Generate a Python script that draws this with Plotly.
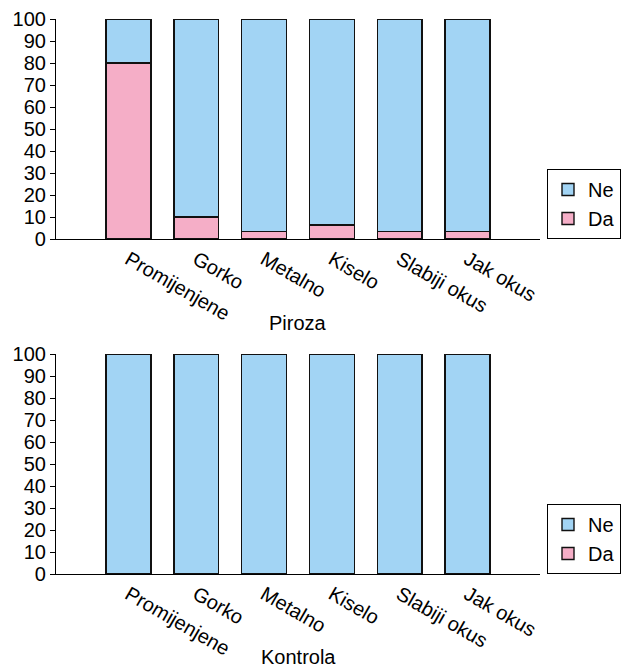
import plotly.graph_objects as go
from plotly.subplots import make_subplots

categories = ["Promijenjene", "Gorko", "Metalno", "Kiselo", "Slabiji okus", "Jak okus"]
piroza_da = [80, 10, 3.5, 6.3, 3.5, 3.5]
piroza_ne = [20, 90, 96.5, 93.7, 96.5, 96.5]
kontrola_da = [0, 0, 0, 0, 0, 0]
kontrola_ne = [100, 100, 100, 100, 100, 100]
panel_titles = ["Piroza", "Kontrola"]
y_ticks = list(range(0, 101, 10))

BLUE = "#a2d4f4"
PINK = "#f5aec7"
FONT = "Liberation Sans, Arial, sans-serif"
FS = 20

fig = make_subplots(rows=2, cols=1, vertical_spacing=0.2)

x_idx = list(range(len(categories)))
panels = [(piroza_da, piroza_ne, "legend"), (kontrola_da, kontrola_ne, "legend2")]
for r, (da, ne, lg) in enumerate(panels, start=1):
    fig.add_trace(go.Bar(x=x_idx, y=da, name="Da", marker=dict(color=PINK, line=dict(color="#111", width=1.4)),
                         width=0.66, legend=lg), row=r, col=1)
    fig.add_trace(go.Bar(x=x_idx, y=ne, name="Ne", marker=dict(color=BLUE, line=dict(color="#111", width=1.4)),
                         width=0.66, legend=lg), row=r, col=1)

top_bottom = (574 - 239) / 555
bot_top = (574 - 354) / 555

for r, dom in [(1, [top_bottom, 1.0]), (2, [0.0, bot_top])]:
    fig.update_xaxes(row=r, col=1, tickmode="array", tickvals=x_idx, ticktext=categories,
                     range=[-1.07, 6.07], tickangle=30, showline=True, linecolor="black", linewidth=1.2,
                     ticks="", showgrid=False, zeroline=False, automargin=False,
                     tickfont=dict(family=FONT, size=FS, color="black"))
    fig.update_yaxes(row=r, col=1, domain=dom, range=[0, 100], tickvals=y_ticks,
                     showline=True, linecolor="black", linewidth=1.2, ticks="outside", ticklen=5,
                     tickcolor="black", showgrid=False, zeroline=False, automargin=False,
                     tickfont=dict(family=FONT, size=FS, color="black"))

fig.add_annotation(text=panel_titles[0], xref="paper", yref="paper", x=0.5, y=(574 - 323) / 555,
                   showarrow=False, font=dict(family=FONT, size=FS, color="black"), yanchor="middle")
fig.add_annotation(text=panel_titles[1], xref="paper", yref="paper", x=0.5, y=(574 - 657) / 555,
                   showarrow=False, font=dict(family=FONT, size=FS, color="black"), yanchor="middle")

legend_style = dict(xanchor="left", yanchor="bottom", x=(547 - 56) / 484,
                    bordercolor="black", borderwidth=1, bgcolor="white",
                    font=dict(family=FONT, size=FS, color="black"), traceorder="reversed",
                    itemwidth=30, tracegroupgap=0)

fig.update_layout(
    width=623, height=668,
    margin=dict(l=56, r=83, t=19, b=94, autoexpand=False),
    barmode="stack",
    plot_bgcolor="white", paper_bgcolor="white",
    showlegend=True,
    legend=dict(y=top_bottom, **legend_style),
    legend2=dict(y=0, **legend_style),
    font=dict(family=FONT, size=FS, color="black"),
)

fig.write_html("out.html", config={"displayModeBar": False})

with open("out.html", "r", encoding="utf-8") as f:
    html = f.read()
html = html.replace("<head>", "<head><style>html,body{margin:0;padding:0;overflow:hidden}</style>", 1)
with open("out.html", "w", encoding="utf-8") as f:
    f.write(html)
